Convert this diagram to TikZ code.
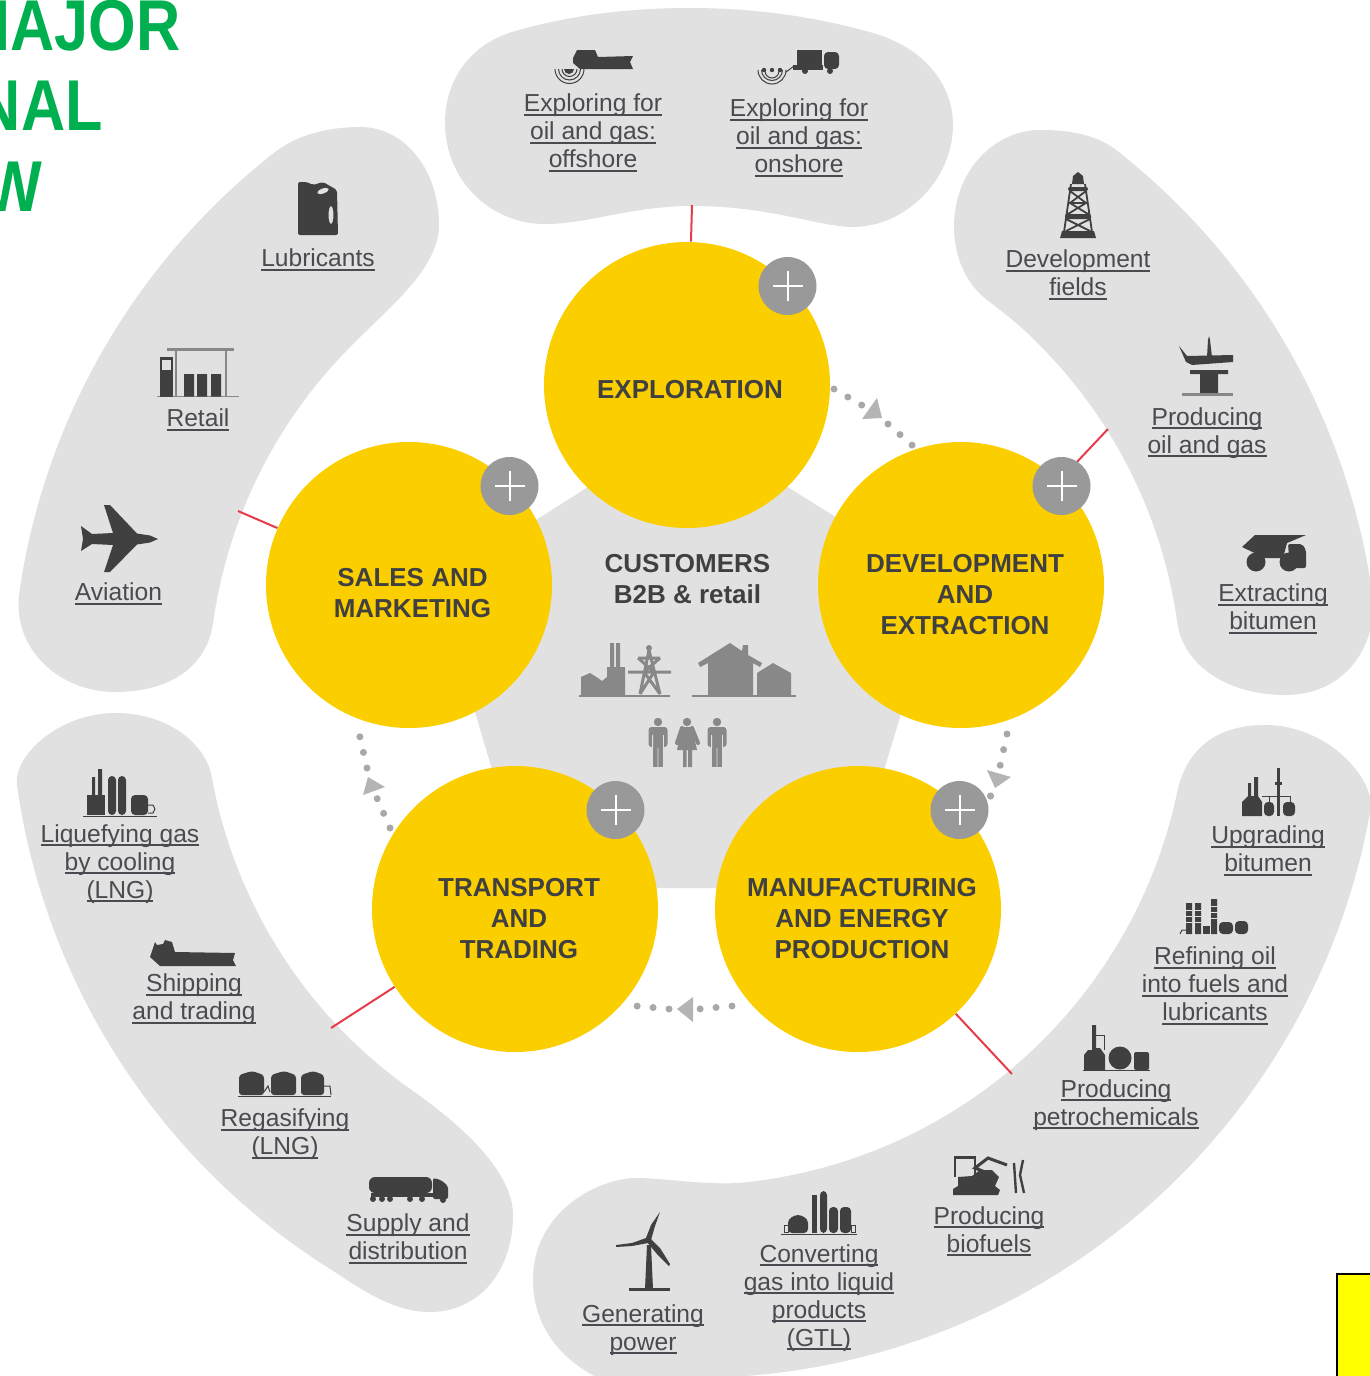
\documentclass[tikz,border=0pt]{standalone}
\usepackage{fontspec}
\setmainfont{Liberation Sans}
\newfontfamily\headfont[FakeStretch=0.85]{Liberation Sans}
\definecolor{blobgrey}{HTML}{E1E1E1}
\definecolor{sunny}{HTML}{FBCE00}
\definecolor{plusgrey}{HTML}{999999}
\definecolor{iconink}{HTML}{404040}
\definecolor{softink}{HTML}{888888}
\definecolor{dotgrey}{HTML}{A8A8A8}
\definecolor{trigrey}{HTML}{B4B4B4}
\definecolor{redline}{HTML}{E63B4B}
\definecolor{headgreen}{HTML}{00B050}
\definecolor{labelink}{HTML}{4A4A50}
\definecolor{pureyellow}{HTML}{FFFF00}
\newcommand\ulx[1]{\leavevmode\setbox0=\hbox{#1}\rlap{\vrule width\wd0 height -1.0pt depth 2.0pt}\box0}
\tikzset{
  blob/.style={fill=blobgrey},
  stage/.style={circle,fill=sunny,minimum size=143pt,inner sep=0pt},
  stagetext/.style={align=center,inner sep=0pt,text=iconink,font=\bfseries\fontsize{13}{15.5}\selectfont},
  plusbtn/.style={circle,fill=plusgrey,minimum size=29pt,inner sep=0pt},
  plusbar/.style={draw=white,line width=1pt},
  item/.style={align=center,inner sep=0pt,text=labelink,font=\fontsize{12.3}{14}\selectfont},
  head/.style={anchor=base east,inner sep=0pt,text=headgreen,font=\headfont\bfseries\fontsize{36}{40}\selectfont},
  rlink/.style={draw=redline,line width=1pt},
  dots/.style={draw=dotgrey,line width=3.5pt,line cap=round,dash pattern=on 0pt off 8pt},
  onedot/.style={fill=dotgrey},
  tri/.style={fill=trigrey},
  ink/.style={fill=iconink},
  thin/.style={draw=iconink,line width=.5pt},
  soft/.style={fill=softink},
  softl/.style={draw=softink,line width=1pt},
}
\begin{document}
\begin{tikzpicture}[x=0.5pt,y=-0.5pt]
\useasboundingbox (0,0) rectangle (1370,1376);
\clip (0,0) rectangle (1370,1376);
% centre pentagon
\fill[blob] (687,424) -- (941,583) -- (848,888) -- (527,888) -- (437,583) -- cycle;
% top group
\fill[blob] (512,32) .. controls (570,15) and (630,8) .. (690,8)
  .. controls (760,8) and (820,18) .. (873,33)
  .. controls (925,48) and (953,85) .. (953,125)
  .. controls (953,180) and (905,227) .. (853,227)
  .. controls (820,227) and (770,206) .. (693,206)
  .. controls (630,206) and (590,224) .. (545,224)
  .. controls (490,224) and (445,180) .. (445,123)
  .. controls (445,80) and (470,45) .. (512,32) -- cycle;
% right group
\fill[blob] (1115.4,149.4) arc[start angle=-52,end angle=-8,radius=686]
  .. controls (1378.6,639) and (1350,695) .. (1285,695)
  .. controls (1230,695) and (1183,667) .. (1177.2,622)
  arc[start angle=-8,end angle=-45,radius=489]
  .. controls (1021,326) and (1003,312) .. (987,300)
  .. controls (965,283) and (954,255) .. (954,227)
  .. controls (954,170) and (995,130) .. (1040,130)
  .. controls (1068,130) and (1095,134) .. (1115.4,149.4) -- cycle;
% left group
\fill[blob] (19,595) arc[start angle=-172,end angle=-128,radius=682]
  .. controls (298,134) and (330,127) .. (360,127)
  .. controls (405,127) and (439,170) .. (439,225)
  .. controls (439,270) and (385,310.8) .. (350.8,346.4)
  arc[start angle=-135,end angle=-172,radius=486]
  .. controls (207,667) and (170,692) .. (115,692)
  .. controls (60,692) and (13,650) .. (19,595) -- cycle;
% lower-left group
\fill[blob] (17,785.2) arc[start angle=172,end angle=122,radius=684]
  .. controls (365,1292) and (395,1312) .. (430,1312)
  .. controls (480,1312) and (513,1270) .. (513,1215)
  .. controls (513,1165) and (445,1113.6) .. (412.5,1090.6)
  arc[start angle=125,end angle=170,radius=489]
  .. controls (205,745) and (170,713) .. (115,713)
  .. controls (60,713) and (13,755) .. (17,785.2) -- cycle;
% lower-right group
\fill[blob] (693,1378) arc[start angle=90,end angle=10,radius=688]
  .. controls (1375.5,781) and (1330,725) .. (1265,725)
  .. controls (1215,725) and (1186,750) .. (1177,793)
  arc[start angle=12,end angle=84,radius=495]
  .. controls (710,1186) and (665,1178) .. (636,1178)
  .. controls (600,1178) and (533,1210) .. (533,1280)
  .. controls (533,1325) and (560,1365) .. (615,1385) -- cycle;
% heading
\node[head] (h1) at (181,50) {MAJOR};
\node[head] (h2) at (103,130) {NAL};
\node[head] (h3) at (43,211) {W};
% yellow box
\draw[fill=pureyellow,draw=black,line width=1pt] (1336.5,1274) rectangle (1375,1380);
% stages
\node[stage] (exploration) at (687,385) {};
\node[stage] (development) at (961,585) {};
\node[stage] (manufacturing) at (858,909) {};
\node[stage] (transport) at (515,909) {};
\node[stage] (sales) at (409,585) {};
\node[stagetext] (lexp) at (690,390) {EXPLORATION};
\node[stagetext] (ldev) at (965,595) {DEVELOPMENT\\AND\\EXTRACTION};
\node[stagetext] (lman) at (862,919) {MANUFACTURING\\AND ENERGY\\PRODUCTION};
\node[stagetext] (ltra) at (519,919) {TRANSPORT\\AND\\TRADING};
\node[stagetext] (lsal) at (412.5,593) {SALES AND\\MARKETING};
\node[stagetext] (lcus) at (687.5,579.5) {CUSTOMERS\\B2B \& retail};
% red connectors
\coordinate (r1) at (692,205);
\coordinate (r2) at (1108,429);
\coordinate (r3) at (1012,1074);
\coordinate (r4) at (331,1028);
\coordinate (r5) at (238,511);
\draw[rlink] (r1) -- (exploration);
\draw[rlink] (r2) -- (development);
\draw[rlink] (r3) -- (manufacturing);
\draw[rlink] (r4) -- (transport);
\draw[rlink] (r5) -- (sales);
% dotted cycle
\coordinate (d1a) at (834,389); \coordinate (d1b) at (862.5,405.5);
\coordinate (d1c) at (888,424); \coordinate (d1d) at (912.5,445.5);
\coordinate (d2a) at (1007,734); \coordinate (d2b) at (999.8,767);
\coordinate (d3a) at (732,1006); \coordinate (d3b) at (699.5,1009);
\coordinate (d3c) at (669,1009); \coordinate (d3d) at (636.5,1006);
\coordinate (d4a) at (390,828); \coordinate (d4b) at (376.5,797);
\coordinate (d4c) at (367,768); \coordinate (d4d) at (359.8,736.5);
\draw[dots] (d1a) -- (d1b);
\draw[dots] (d1c) -- (d1d);
\draw[dots] (d2a) -- (d2b);
\draw[dots] (d3a) -- (d3b);
\draw[dots] (d3c) -- (d3d);
\draw[dots] (d4a) -- (d4b);
\draw[dots] (d4c) -- (d4d);
\fill[tri] (877,398) -- (882,418) -- (862,419) -- cycle;
\fill[tri] (987,770) -- (1011,777) -- (995,788) -- cycle;
\fill[tri] (677,1009) -- (693,997) -- (693,1022) -- cycle;
\fill[tri] (368,777) -- (385,787) -- (363,795) -- cycle;
% plus buttons
\foreach \n/\x/\y in {pa/787.5/286,pb/1061.5/486,pc/959.5/810,pd/615.5/810,pe/509.5/486}{
  \node[plusbtn] (\n) at (\x,\y) {};
  \draw[plusbar] (\x-15,\y) -- (\x+15,\y) (\x,\y-15) -- (\x,\y+15);
}
\fill[onedot] (990.5,796) circle[radius=3.6];
% labels
\node[item] (n1) at (593,133) {\ulx{Exploring for}\\\ulx{oil and gas:}\\\ulx{offshore}};
\node[item] (n2) at (799,138) {\ulx{Exploring for}\\\ulx{oil and gas:}\\\ulx{onshore}};
\node[item] (n3) at (318,260) {\ulx{Lubricants}};
\node[item] (n4) at (198,420) {\ulx{Retail}};
\node[item] (n5) at (118.5,594) {\ulx{Aviation}};
\node[item] (n6) at (1078,275) {\ulx{Development}\\\ulx{fields}};
\node[item] (n7) at (1207,433) {\ulx{Producing}\\\ulx{oil and gas}};
\node[item] (n8) at (1273,609) {\ulx{Extracting}\\\ulx{bitumen}};
\node[item] (n9) at (120,864) {\ulx{Liquefying gas}\\\ulx{by cooling}\\\ulx{(LNG)}};
\node[item] (n10) at (194,999.5) {\ulx{Shipping}\\\ulx{and trading}};
\node[item] (n11) at (285,1134.5) {\ulx{Regasifying}\\\ulx{(LNG)}};
\node[item] (n12) at (408,1239) {\ulx{Supply and}\\\ulx{distribution}};
\node[item] (n13) at (1268,851) {\ulx{Upgrading}\\\ulx{bitumen}};
\node[item] (n14) at (1215,986) {\ulx{Refining oil}\\\ulx{into fuels and}\\\ulx{lubricants}};
\node[item] (n15) at (1116,1105) {\ulx{Producing}\\\ulx{petrochemicals}};
\node[item] (n16) at (989,1231.5) {\ulx{Producing}\\\ulx{biofuels}};
\node[item] (n17) at (819,1298) {\ulx{Converting}\\\ulx{gas into liquid}\\\ulx{products}\\\ulx{(GTL)}};
\node[item] (n18) at (643,1330) {\ulx{Generating}\\\ulx{power}};
% icon: offshore exploring
\fill[ink] (573,58)--(577,50)--(595,50)--(598,57)--(633,56)--(630,62)--(633,69)--(580,69)--(573,63)--cycle;
\fill[ink] (564,69) arc[start angle=180,end angle=0,radius=5] -- cycle;
\draw[thin] (562,69) arc[start angle=180,end angle=0,radius=7.5];
\draw[thin] (558.5,69) arc[start angle=180,end angle=0,radius=11];
\draw[thin] (555,69) arc[start angle=180,end angle=0,radius=14.5];
% icon: onshore exploring
\fill[ink] (797,50) rectangle (822,67);
\fill[ink] (793,65) rectangle (823,70);
\fill[ink,rounded corners=2pt] (824,52) rectangle (839,69);
\fill[ink] (805,71) circle[radius=3] (830,71) circle[radius=3];
\draw[thin] (786,72) -- (794,66);
\fill[ink] (764,70) circle[radius=2.2] (772,70) circle[radius=2.2] (780,70) circle[radius=2.2];
\draw[thin] (758,70) arc[start angle=180,end angle=0,radius=14];
\draw[thin] (761.5,70) arc[start angle=180,end angle=0,radius=10.5];
\draw[thin] (765,71) arc[start angle=180,end angle=0,radius=7];
% icon: derrick
\fill[ink] (1060,238)--(1062,231)--(1094,231)--(1096,238)--cycle;
\fill[ink] (1072,184)--(1073,176)--(1078,172)--(1083,176)--(1084,184)--cycle;
\fill[ink,rounded corners=1pt] (1068,187) rectangle (1088,191);
\fill[ink,rounded corners=1pt] (1065,214) rectangle (1091,219);
\draw[iconink,line width=.9pt] (1071,184)--(1064,232) (1085,184)--(1092,232)
  (1070,191)--(1086,203)--(1068,214) (1086,191)--(1070,203)--(1088,214)
  (1068,203)--(1088,203) (1066,219)--(1090,231) (1090,219)--(1066,231);
% icon: platform
\fill[ink] (1207,357)--(1208,340)--(1209,336)--(1210,340)--(1212,357)--cycle;
\fill[ink] (1179,346)--(1187,356)--(1233,355)--(1233,362)--(1192,365)--(1186,362)--cycle;
\fill[ink] (1190,370)--(1228,370)--(1228,374)--(1218,374)--(1218,395)--(1200,395)--(1200,374)--(1190,374)--cycle;
\draw[softl,line width=1.2pt] (1182,394.5) -- (1233,394.5);
% icon: dump truck
\fill[ink] (1242,547)--(1255,535)--(1306,535)--(1287,543)--(1283,558)--(1265,558)--cycle;
\fill[ink,rounded corners=1pt] (1288,544)--(1302,544)--(1306,550)--(1306,568)--(1290,568)--cycle;
\fill[ink] (1256,562) circle[radius=9.5] (1289,562) circle[radius=9.5];
% icon: jerry can
\fill[ink,even odd rule,rounded corners=1pt] (298,182)--(307,182)--(313,185)--(323,182)--(337,190)--(338,235)--(298,235)--cycle
  (331,215) ellipse[x radius=2.5,y radius=9];
\fill[blobgrey,rotate around={20:(323,191)}] (323,191) ellipse[x radius=6,y radius=2.5];
% icon: retail
\fill[softink] (167,347.5) rectangle (234,351);
\draw[softink,line width=.9pt] (176,350)--(176,396) (226,350)--(226,396);
\draw[softink,line width=.5pt] (157,396.5)--(239,396.5);
\fill[ink] (160,357) rectangle (173,396.5);
\fill[blobgrey] (162,360) rectangle (171,370);
\fill[ink] (184,374) rectangle (194,396.5) (197,374) rectangle (207,396.5) (211,374) rectangle (221,396.5);
% icon: plane
\fill[ink] (158,539)--(150,535.5)--(137,533.5)--(110,505)--(104,505)--(113,533)--(92,534)--(81,526)--(83,539)--(81,551)--(92,544)--(113,545)--(104,572)--(110,572)--(137,544.5)--(150,542.5)--cycle;
% icon: liquefying
\fill[ink] (87,795) rectangle (105,815);
\fill[ink] (92,777) rectangle (95,795) (98,769) rectangle (102,795);
\fill[ink,rounded corners=2pt] (108,776) rectangle (116,815) (118,776) rectangle (126,815);
\fill[ink,rounded corners=2pt] (131,795) rectangle (148,815);
\draw[thin] (148,805) -- (153,805) -- (155,809) -- (153,813) -- (148,813);
\draw[thin] (83,816) -- (157,816);
% icon: ship
\fill[ink] (150,957)--(155,942)--(157,945)--(163,944)--(165,940)--(172,942)--(175,952)--(235,953)--(233,960)--(236,966)--(160,966)--cycle;
% icon: regas tanks
\fill[ink,rounded corners=1.5pt] (239,1075)--(252,1071)--(264,1075)--(264,1095)--(239,1095)--cycle;
\fill[ink,rounded corners=1.5pt] (271,1075)--(284,1071)--(296,1075)--(296,1095)--(271,1095)--cycle;
\fill[ink,rounded corners=1.5pt] (301,1075)--(313,1071)--(324,1075)--(324,1095)--(301,1095)--cycle;
\draw[thin] (238,1096.5)--(331,1096.5);
\draw[thin] (324,1086)--(330,1086)--(331,1095);
\draw[thin] (264,1092)--(268,1086)--(270,1092);
% icon: tanker truck
\fill[ink,rounded corners=3pt] (369,1177) rectangle (432,1193);
\fill[ink,rounded corners=1pt] (433,1178)--(441,1180)--(448,1186)--(448,1199)--(433,1199)--cycle;
\fill[ink] (371,1193) rectangle (433,1197);
\fill[ink] (373,1199) circle[radius=3] (382,1199) circle[radius=3] (390,1199) circle[radius=3] (410,1199) circle[radius=3] (422,1199) circle[radius=3] (443,1200) circle[radius=3];
% icon: upgrading
\fill[ink] (1242,802)--(1248,796)--(1248,783)--(1251,783)--(1251,796)--(1254,796)--(1254,777)--(1258,777)--(1258,796)--(1262,802)--(1262,816)--(1242,816)--cycle;
\fill[ink] (1277,768) rectangle (1280,816);
\fill[ink] (1275,782) rectangle (1282,785);
\fill[ink,rounded corners=2pt] (1264,802) rectangle (1274,816) (1283,802) rectangle (1295,816);
\draw[thin] (1262,796)--(1290,796)--(1290,802) (1269,796)--(1269,802);
% icon: refining
\fill[ink] (1186,903) rectangle (1192,934) (1195,903) rectangle (1201,934) (1211,899) rectangle (1217,934);
\fill[ink] (1203,926) rectangle (1210,934);
\fill[ink,rounded corners=2pt] (1219,922) rectangle (1233,934) (1235,921) rectangle (1248,934);
\draw[thin] (1180,934)--(1182,930)--(1186,930);
\draw[blobgrey,line width=.4pt] (1186,910)--(1192,910) (1186,916)--(1192,916) (1186,922)--(1192,922) (1195,910)--(1201,910) (1195,916)--(1201,916) (1195,922)--(1201,922) (1211,906)--(1217,906) (1211,912)--(1217,912) (1211,918)--(1217,918);
% icon: petrochemicals
\fill[ink] (1084,1070)--(1084,1055)--(1088,1050)--(1092,1050)--(1092,1025)--(1096,1025)--(1096,1048)--(1100,1048)--(1105,1055)--(1105,1070)--cycle;
\draw[thin] (1096,1035)--(1104,1035)--(1104,1050);
\fill[ink] (1120,1058) circle[radius=11.5];
\fill[ink,rounded corners=1pt] (1134,1052) rectangle (1149,1070);
\draw[thin] (1083,1070.5)--(1150,1070.5);
% icon: biofuels
\draw[iconink,line width=1.1pt] (975,1177)--(975,1157.5)--(955,1157.5)--(955,1177);
\fill[ink] (953,1195)--(953,1189)--(958,1186)--(958,1177)--(972,1176)--(980,1170)--(992,1170)--(999,1177)--(995,1186)--(1000,1190)--(998,1195)--cycle;
\draw[iconink,line width=1.5pt] (985,1172)--(975,1168)--(988,1158)--(1007,1165);
\draw[iconink,line width=1.2pt] (1014,1163)--(1016,1193) (1023,1160)--(1020,1175)--(1024,1193);
% icon: GTL
\fill[ink,rounded corners=2pt] (788,1233)--(788,1219)--(798,1214)--(808,1219)--(808,1233)--cycle;
\fill[ink] (812,1195) rectangle (817,1233);
\fill[ink,rounded corners=2pt] (820,1191) rectangle (827,1233) (829,1207) rectangle (838,1233) (840,1207) rectangle (851,1233);
\draw[thin] (784,1225) rectangle (788,1232);
\draw[thin] (851,1225) rectangle (855,1232);
\draw[thin] (781,1234.5)--(857,1234.5);
% icon: wind turbine
\fill[ink] (647,1245)--(651,1245)--(653,1289)--(645,1289)--cycle;
\draw[iconink,line width=1.2pt] (629,1289.5)--(670,1289.5);
\fill[ink] (646,1238)--(651,1225)--(660,1212)--(655,1226)--(651,1240)--cycle;
\fill[ink] (646,1238)--(632,1243)--(616,1245)--(616,1247)--(632,1246)--(648,1243)--cycle;
\fill[ink] (650,1238)--(660,1248)--(670,1264)--(669,1266)--(657,1254)--(647,1242)--cycle;
\fill[ink] (648.5,1240) circle[radius=3];
% centre icons
\fill[soft] (581,695)--(581,677)--(590,673)--(598,678)--(602,681)--(607,677)--(607,667)--(625,667)--(625,695)--cycle;
\fill[soft] (610,643) rectangle (614,667) (616,643) rectangle (620,667);
\draw[softl] (579,695.5)--(670,695.5);
\fill[soft] (649,648) circle[radius=3];
\draw[softl,line width=1.5pt] (649,650)--(640,694) (649,650)--(660,694) (638,658)--(660,658) (628,672)--(671,672)
  (644,672)--(660,694) (654,672)--(640,694) (638,658)--(654,672) (660,658)--(644,672);
\fill[soft] (698,663)--(730,643)--(742,651)--(743,645)--(748,645)--(748,655)--(762,663)--(760,667)--(753,663)--(753,695)--(708,695)--(708,663)--(700,667)--cycle;
\fill[soft] (757,673)--(773,663)--(791,673)--(791,695)--(757,695)--cycle;
\draw[softl,line width=1.3pt] (692,696)--(796,696);
\foreach \px in {658,717}{
  \begin{scope}[shift={(\px,0)}]
    \fill[soft] (0,722) circle[radius=4.2];
    \fill[soft,rounded corners=1.5pt] (-9.5,727) rectangle (9.5,747);
    \fill[soft] (-5,730) rectangle (5,767);
    \fill[blobgrey] (-5.8,735) rectangle (-5,748) (5,735) rectangle (5.8,748) (-.4,748) rectangle (.4,768);
  \end{scope}
}
\fill[soft] (687,722) circle[radius=4.2];
\fill[soft] (682,727)--(692,727)--(697,750)--(677,750)--cycle;
\draw[softl,line width=2pt,line cap=round] (682,728)--(677,743) (692,728)--(698,743);
\fill[soft] (683,750) rectangle (686.5,767) (688,750) rectangle (692,767);
\end{tikzpicture}
\end{document}
